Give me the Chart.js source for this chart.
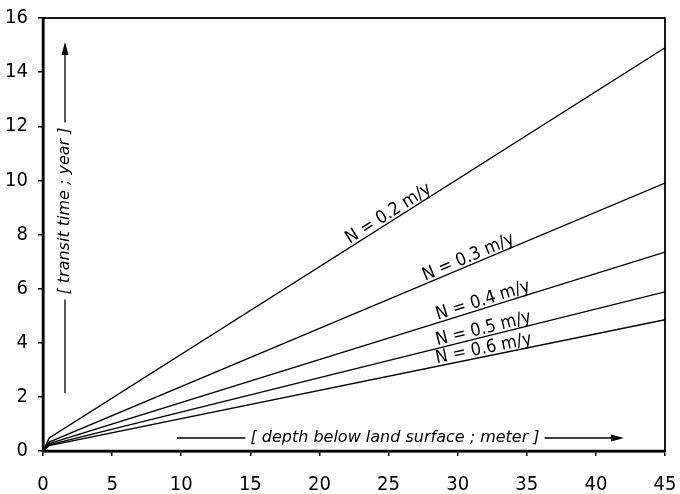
<!DOCTYPE html>
<html><head><meta charset="utf-8">
<script src="https://cdn.jsdelivr.net/npm/chart.js@4/dist/chart.umd.min.js"></script>
<style>html,body{margin:0;padding:0;background:#fff}#wrap{width:680px;height:494px}</style>
</head><body><div id="wrap"><canvas id="c" width="680" height="494"></canvas></div>
<script>
// depth below land surface (m)
const depth = [0, 0.45, 45];
// transit time (years) for each recharge rate
const tN02 = [0, 0.48, 14.9];
const tN03 = [0, 0.33, 9.9];
const tN04 = [0, 0.27, 7.35];
const tN05 = [0, 0.23, 5.88];
const tN06 = [0, 0.2, 4.85];
const seriesNames = ['N = 0.2 m/y','N = 0.3 m/y','N = 0.4 m/y','N = 0.5 m/y','N = 0.6 m/y'];
const labelDepth = [25.3, 31.0, 32.0, 32.0, 32.0];
const xTicks = [0,5,10,15,20,25,30,35,40,45];
const yTicks = [0,2,4,6,8,10,12,14,16];
const xTitle = '[ depth below land surface ; meter ]';
const yTitle = '[ transit time ; year ]';

const allSeries = [tN02,tN03,tN04,tN05,tN06];
const tickFont = {family:"'DejaVu Sans Condensed','Liberation Sans Narrow','DejaVu Sans',sans-serif", size:20};

const datasets = allSeries.map((s,i)=>({
  label: seriesNames[i],
  data: depth.map((d,j)=>({x:d,y:s[j]})),
  showLine:true, borderColor:'#000', borderWidth:1.4, pointRadius:0, fill:false, tension:0
}));

function arrowHead(ctx, x, y, dir){
  ctx.beginPath();
  if(dir==='up'){ ctx.moveTo(x,y); ctx.lineTo(x-3.5,y+13); ctx.lineTo(x+3.5,y+13); }
  else { ctx.moveTo(x,y); ctx.lineTo(x-13,y-3.5); ctx.lineTo(x-13,y+3.5); }
  ctx.closePath(); ctx.fill();
}

const deco = {
  id:'deco',
  afterDraw(chart){
    const ctx = chart.ctx, a = chart.chartArea, xs = chart.scales.x, ys = chart.scales.y;
    ctx.save();
    ctx.strokeStyle='#000'; ctx.fillStyle='#000';
    ctx.lineWidth=1.8; ctx.strokeRect(a.left, a.top, a.right-a.left, a.bottom-a.top);
    ctx.lineWidth=2.5;
    ctx.beginPath(); ctx.moveTo(a.left,a.top); ctx.lineTo(a.left,a.bottom); ctx.lineTo(a.right,a.bottom); ctx.stroke();
    ctx.font = "18px 'DejaVu Sans Condensed','Liberation Sans Narrow','DejaVu Sans',sans-serif";
    ctx.textAlign='center'; ctx.textBaseline='alphabetic';
    allSeries.forEach((s,i)=>{
      const d = labelDepth[i];
      let k = 1; while(k<depth.length-1 && depth[k]<d) k++;
      const f = (d-depth[k-1])/(depth[k]-depth[k-1]);
      const v = s[k-1]+f*(s[k]-s[k-1]);
      const px = xs.getPixelForValue(d), py = ys.getPixelForValue(v);
      const ang = Math.atan2(ys.getPixelForValue(s[k])-ys.getPixelForValue(s[k-1]), xs.getPixelForValue(depth[k])-xs.getPixelForValue(depth[k-1]));
      ctx.save(); ctx.translate(px,py); ctx.rotate(ang);
      ctx.fillText(seriesNames[i], 0, -3);
      ctx.restore();
    });
    ctx.font = "italic 16px 'DejaVu Sans','Liberation Sans',sans-serif";
    ctx.lineWidth=1.3;
    const xc=395, xy=438, w=ctx.measureText(xTitle).width;
    ctx.textAlign='center'; ctx.textBaseline='middle';
    ctx.fillText(xTitle, xc, xy);
    ctx.beginPath(); ctx.moveTo(177,xy); ctx.lineTo(xc-w/2-5,xy);
    ctx.moveTo(xc+w/2+5,xy); ctx.lineTo(612,xy); ctx.stroke();
    arrowHead(ctx,624,xy,'right');
    const yx=65, yc=211, wy=ctx.measureText(yTitle).width;
    ctx.save(); ctx.translate(yx,yc); ctx.rotate(-Math.PI/2);
    ctx.fillText(yTitle,0,0); ctx.restore();
    ctx.beginPath(); ctx.moveTo(yx,393); ctx.lineTo(yx,yc+wy/2+5);
    ctx.moveTo(yx,yc-wy/2-5); ctx.lineTo(yx,54); ctx.stroke();
    arrowHead(ctx,yx,42,'up');
    ctx.restore();
  }
};

new Chart(document.getElementById('c'), {
  type:'scatter',
  data:{datasets},
  options:{
    responsive:false, animation:false,
    layout:{padding:{top:18,right:15,left:0,bottom:0}},
    plugins:{legend:{display:false}, tooltip:{enabled:false}},
    scales:{
      x:{type:'linear', min:0, max:45,
        afterBuildTicks(s){ s.ticks = xTicks.map(v=>({value:v})); },
        afterFit(s){ s.height=43; s.paddingLeft=0; s.paddingRight=0; },
        grid:{drawOnChartArea:false, drawTicks:true, tickLength:5, color:'#000', lineWidth:1.5},
        border:{display:true, color:'#000', width:2.5},
        ticks:{color:'#000', font:tickFont, padding:17, maxRotation:0, autoSkip:false}
      },
      y:{type:'linear', min:0, max:16,
        afterBuildTicks(s){ s.ticks = yTicks.map(v=>({value:v})); },
        afterFit(s){ s.width=43; s.paddingTop=0; s.paddingBottom=0; },
        grid:{drawOnChartArea:false, drawTicks:true, tickLength:5, color:'#000', lineWidth:1.5},
        border:{display:true, color:'#000', width:2.5},
        ticks:{color:'#000', font:tickFont, padding:10}
      }
    }
  },
  plugins:[deco]
});
</script></body></html>
